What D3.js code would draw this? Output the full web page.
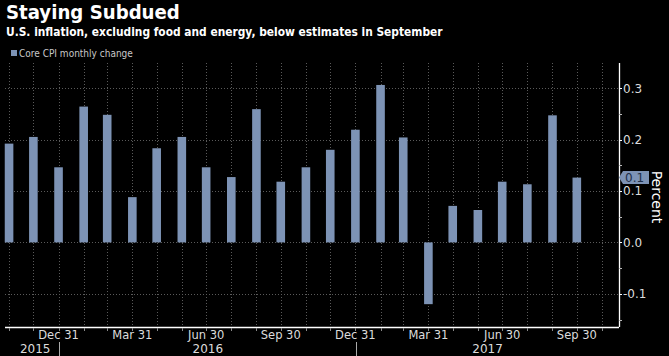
<!DOCTYPE html>
<html><head><meta charset="utf-8">
<script src="https://cdn.jsdelivr.net/npm/d3@7/dist/d3.min.js"></script>
<style>html,body{margin:0;padding:0;background:#000;}svg{display:block;}</style>
</head><body>
<svg id="c" width="669" height="356"></svg>
<script>
// ---- data ----
const months = ["2015-10-31","2015-11-30","2015-12-31","2016-01-31","2016-02-29","2016-03-31","2016-04-30","2016-05-31","2016-06-30","2016-07-31","2016-08-31","2016-09-30","2016-10-31","2016-11-30","2016-12-31","2017-01-31","2017-02-28","2017-03-31","2017-04-30","2017-05-31","2017-06-30","2017-07-31","2017-08-31","2017-09-30"];
const coreCPI = [0.192,0.205,0.146,0.264,0.248,0.088,0.183,0.205,0.146,0.127,0.259,0.118,0.146,0.180,0.219,0.306,0.204,-0.120,0.071,0.063,0.118,0.113,0.247,0.126];
const monthLabels = ["Dec 31","Mar 31","Jun 30","Sep 30","Dec 31","Mar 31","Jun 30","Sep 30"];
const monthLabelDates = ["2015-12-31","2016-03-31","2016-06-30","2016-09-30","2016-12-31","2017-03-31","2017-06-30","2017-09-30"];
const yearLabels = ["2015","2016","2017"];
const yTicks = [-0.1,0.0,0.1,0.2,0.3];
const yMinorTicks = [-0.15,-0.05,0.05,0.15,0.25];
const lastValueLabel = "0.1";
const title = "Staying Subdued";
const subtitle = "U.S. inflation, excluding food and energy, below estimates in September";
const legendLabel = "Core CPI monthly change";
const axisTitle = "Percent";

const parse = d3.timeParse("%Y-%m-%d");
const data = months.map((m,i)=>({date:parse(m), value:coreCPI[i]}));

const svg = d3.select("#c");
const L = 5, R = 619, T = 63, B = 327;
const x = d3.scaleTime().domain([new Date(2015,9,26), new Date(2017,10,21)]).range([L,R]);
const y = d3.scaleLinear().domain([-0.1644,0.3487]).range([B,T]);
const barColor = "#7d93b5";
const gridColor = "#5a5a5a";

svg.append("rect").attr("width",669).attr("height",356).attr("fill","#000");

// titles
function fitText(sel, w){
  const n = sel.node(); const cur = n.getComputedTextLength();
  const fs = parseFloat(sel.attr("font-size"));
  sel.attr("font-size", fs*w/cur);
}
const t1 = svg.append("text").attr("x",6).attr("y",18.5).attr("fill","#fff")
  .attr("font-family","DejaVu Sans Condensed, DejaVu Sans").attr("font-weight","bold").attr("font-size",19).text(title);
fitText(t1,174);
const t2 = svg.append("text").attr("x",6).attr("y",36).attr("fill","#fff")
  .attr("font-family","DejaVu Sans Condensed, DejaVu Sans").attr("font-weight","bold").attr("font-size",14).text(subtitle);
fitText(t2,437);

// legend
svg.append("rect").attr("x",11).attr("y",50).attr("width",6).attr("height",6).attr("fill",barColor);
const lt = svg.append("text").attr("x",19).attr("y",57).attr("fill","#c8c8c8")
  .attr("font-family","DejaVu Sans Condensed, DejaVu Sans").attr("font-size",10).text(legendLabel);
fitText(lt,114);

// grid
const gridMonths = d3.timeMonth.range(new Date(2015,10,1), new Date(2017,10,2)).map(d=>d3.timeDay.offset(d,-1));
svg.append("g").selectAll("line").data(gridMonths).join("line")
  .attr("x1",d=>Math.round(x(d))+0.5).attr("x2",d=>Math.round(x(d))+0.5)
  .attr("y1",T).attr("y2",B).attr("stroke",gridColor).attr("stroke-width",1).attr("stroke-dasharray","1,2");
svg.append("g").selectAll("line").data(yTicks).join("line")
  .attr("x1",L).attr("x2",R).attr("y1",d=>Math.round(y(d))+0.5).attr("y2",d=>Math.round(y(d))+0.5)
  .attr("stroke",gridColor).attr("stroke-width",1).attr("stroke-dasharray","1,2");

// bars
const bw = 8.6;
svg.append("g").selectAll("rect").data(data).join("rect")
  .attr("x",d=>x(d.date)-bw/2).attr("width",bw)
  .attr("y",d=>y(Math.max(0,d.value))).attr("height",d=>Math.abs(y(d.value)-y(0)))
  .attr("fill",barColor);

// x axis
const xa = svg.append("g").attr("transform",`translate(0,${B})`);
xa.append("line").attr("x1",L).attr("x2",R).attr("y1",0.5).attr("y2",0.5).attr("stroke","#fff").attr("stroke-width",1.3);
xa.selectAll("line.tk").data(gridMonths).join("line").attr("class","tk")
  .attr("x1",d=>Math.round(x(d))+0.5).attr("x2",d=>Math.round(x(d))+0.5).attr("y1",1).attr("y2",4)
  .attr("stroke","#888");
xa.selectAll("text.m").data(monthLabels).join("text").attr("class","m")
  .attr("x",(d,i)=>x(parse(monthLabelDates[i]))).attr("y",12).attr("text-anchor","middle")
  .attr("fill","#dcdcdc").attr("font-family","DejaVu Sans").attr("font-size",11.5).text(d=>d);
const yearBounds = [x.domain()[0], new Date(2016,0,1), new Date(2017,0,1), x.domain()[1]];
xa.selectAll("text.yr").data(yearLabels).join("text").attr("class","yr")
  .attr("x",(d,i)=>(x(yearBounds[i])+x(yearBounds[i+1]))/2 + (i===0?3:0)).attr("y",26).attr("text-anchor","middle")
  .attr("fill","#dcdcdc").attr("font-family","DejaVu Sans").attr("font-size",12).text(d=>d);
xa.selectAll("line.sep").data(yearBounds.slice(1,3)).join("line").attr("class","sep")
  .attr("x1",d=>Math.round(x(d))+0.5).attr("x2",d=>Math.round(x(d))+0.5).attr("y1",15).attr("y2",29)
  .attr("stroke","#aaa");

// y axis
const ya = svg.append("g").attr("transform",`translate(${R},0)`);
ya.append("line").attr("x1",0.5).attr("x2",0.5).attr("y1",T).attr("y2",B).attr("stroke","#fff").attr("stroke-width",1.3);
ya.selectAll("line.maj").data(yTicks).join("line").attr("class","maj")
  .attr("x1",0).attr("x2",3).attr("y1",d=>Math.round(y(d))+0.5).attr("y2",d=>Math.round(y(d))+0.5).attr("stroke","#fff");
ya.selectAll("line.min").data(yMinorTicks).join("line").attr("class","min")
  .attr("x1",0).attr("x2",3).attr("y1",d=>Math.round(y(d))+0.5).attr("y2",d=>Math.round(y(d))+0.5).attr("stroke","#bbb");
ya.selectAll("text").data(yTicks).join("text")
  .attr("x",4).attr("y",d=>y(d)+4.5).attr("fill","#dcdcdc")
  .attr("font-family","DejaVu Sans").attr("font-size",12).text(d=>d.toFixed(1));

// last value tag
const last = data[data.length-1];
const ty = y(last.value);
svg.append("path").attr("d",`M${R},${ty} L${R+4},${ty-6.5} L${R+30},${ty-6.5} L${R+30},${ty+6.5} L${R+4},${ty+6.5} Z`)
  .attr("fill",barColor);
svg.append("text").attr("x",R+6).attr("y",ty+4.5).attr("fill","#1f2f48")
  .attr("font-family","DejaVu Sans").attr("font-size",12).text(lastValueLabel);

// axis title
svg.append("text").attr("transform",`translate(652,197) rotate(90)`).attr("text-anchor","middle")
  .attr("fill","#fff").attr("font-family","DejaVu Sans").attr("font-size",14).text(axisTitle);
</script>
</body></html>
